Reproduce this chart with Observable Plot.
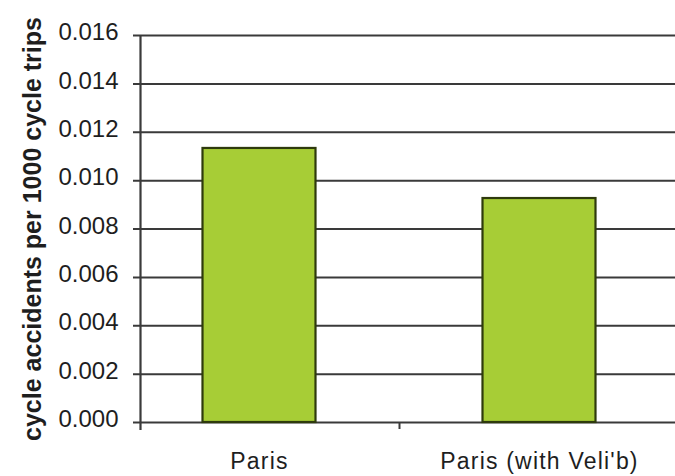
<!DOCTYPE html>
<html>
<head>
<meta charset="utf-8">
<script src="https://cdn.jsdelivr.net/npm/d3@7"></script>
<script src="https://cdn.jsdelivr.net/npm/@observablehq/plot@0.6"></script>
<style>
  html, body { margin: 0; padding: 0; background: #fff; }
  #chart svg { display: block; }
  #chart g[aria-label="x-axis tick label"] text { letter-spacing: 1.2px; }
</style>
</head>
<body>
<div id="chart"></div>
<script>
const categories = ["Paris", "Paris (with Veli'b)"];
const values = [0.01133, 0.00926];
const yTicks = [0, 0.002, 0.004, 0.006, 0.008, 0.010, 0.012, 0.014, 0.016];
const yTitle = "cycle accidents per 1000 cycle trips";

const data = categories.map((c, i) => ({category: c, value: values[i]}));

const W = 675, H = 476;
const chart = Plot.plot({
  width: W,
  height: H,
  marginLeft: 140,
  marginRight: 0,
  marginTop: 35,
  marginBottom: 54,
  style: {fontFamily: "'Liberation Sans', Arial, sans-serif", background: "#fff", color: "#1e1e1e"},
  x: {domain: categories, range: [119, 679], padding: 0},
  y: {domain: [0, 0.016]},
  marks: [
    Plot.ruleY(yTicks, {stroke: "#3a3a3a", strokeWidth: 2, insetLeft: -7}),
    Plot.barY(data, {x: "category", y: "value", fill: "#a7cd36", stroke: "#2e3a0c", strokeWidth: 2.2, insetLeft: 83.5, insetRight: 83.5}),
    Plot.ruleX([categories[0]], {dx: 140, y1: 0, y2: 0, insetBottom: -7, stroke: "#3a3a3a", strokeWidth: 2}),
    Plot.ruleX([categories[0]], {dx: -119, y1: 0.016, y2: 0, insetBottom: -8, stroke: "#3a3a3a", strokeWidth: 2.2}),
    Plot.axisY({ticks: yTicks, tickFormat: d3.format(".3f"), tickSize: 0, tickPadding: 22, fontSize: 24, label: null, dy: -3}),
    Plot.axisX({tickSize: 0, tickPadding: 30, fontSize: 23, label: null}),
    Plot.text([yTitle], {frameAnchor: "left", textAnchor: "middle", rotate: -90, dx: -108, dy: 0, fontSize: 25, fontWeight: "bold", fill: "#1e1e1e"})
  ]
});
document.getElementById("chart").appendChild(chart);
</script>
</body>
</html>
